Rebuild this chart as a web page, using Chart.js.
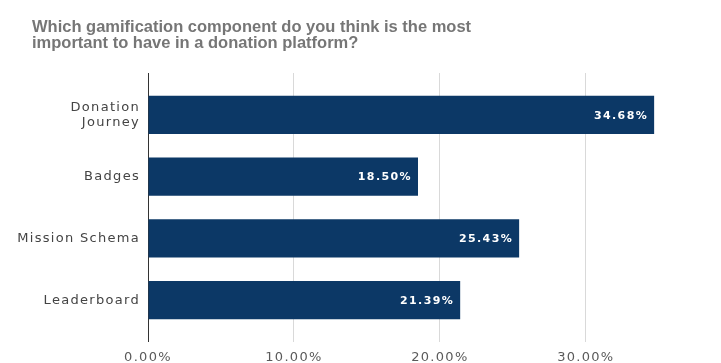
<!DOCTYPE html>
<html>
<head>
<meta charset="utf-8">
<script src="https://cdn.jsdelivr.net/npm/chart.js@4/dist/chart.umd.min.js"></script>
<style>
html,body{margin:0;padding:0;background:#fff;}
#wrap{width:721px;height:363px;position:relative;}
</style>
</head>
<body>
<div id="wrap"><canvas id="c"></canvas></div>
<script>
const titleLines = ['Which gamification component do you think is the most', 'important to have in a donation platform?'];
const categories = [['Donation', 'Journey'], 'Badges', 'Mission Schema', 'Leaderboard'];
const shares = [34.68, 18.50, 25.43, 21.39];
const tickValues = [0, 10, 20, 30];

const SPACING = '1.3px';
const keepTicks = scale => { scale.ticks = scale.ticks.filter(t => tickValues.includes(t.value)); };
const gridColor = ctx => (ctx.tick && ctx.tick.value === 0) ? '#333333' : '#d9d9d9';

const spacingPlugin = {
  id: 'spacing',
  beforeLayout(chart) { chart.ctx.letterSpacing = SPACING; },
  beforeDraw(chart) { chart.ctx.letterSpacing = '0px'; },
  afterDatasetsDraw(chart) {
    const ctx = chart.ctx;
    const meta = chart.getDatasetMeta(0);
    ctx.save();
    ctx.letterSpacing = '1.4px';
    ctx.font = 'bold 11px "DejaVu Sans"';
    ctx.fillStyle = '#ffffff';
    ctx.textAlign = 'right';
    ctx.textBaseline = 'middle';
    meta.data.forEach((bar, i) => {
      ctx.fillText(shares[i].toFixed(2) + '%', bar.x - 6, bar.y + 1);
    });
    ctx.restore();
    ctx.letterSpacing = SPACING;
  }
};

new Chart(document.getElementById('c'), {
  type: 'bar',
  data: {
    labels: categories,
    datasets: [{
      data: shares,
      backgroundColor: '#0c3866',
      borderWidth: 0,
      barPercentage: 0.62,
      categoryPercentage: 1.0
    }]
  },
  plugins: [spacingPlugin],
  options: {
    indexAxis: 'y',
    responsive: true,
    maintainAspectRatio: false,
    animation: false,
    layout: { padding: { left: 32, right: 33, top: 0, bottom: 0 } },
    plugins: {
      legend: { display: false },
      tooltip: { enabled: false },
      title: {
        display: true,
        text: titleLines,
        align: 'start',
        color: '#767676',
        font: { family: '"Liberation Sans", Arial, sans-serif', size: 16.5, weight: 'bold', lineHeight: 1.0 },
        padding: { top: 19, bottom: 21 }
      }
    },
    scales: {
      x: {
        type: 'linear',
        position: 'bottom',
        min: 0,
        max: 37,
        afterBuildTicks: keepTicks,
        afterFit: scale => { scale.height = 32; },
        grid: { color: gridColor, tickLength: 11, drawTicks: true },
        border: { display: false },
        ticks: {
          z: 1,
          padding: 8,
          color: '#5a5a5a',
          font: { family: '"DejaVu Sans"', size: 13, lineHeight: 1.2 },
          callback: v => Number(v).toFixed(2) + '%'
        }
      },
      x2: {
        type: 'linear',
        position: 'top',
        min: 0,
        max: 37,
        afterBuildTicks: keepTicks,
        grid: { color: gridColor, tickLength: 11, drawTicks: true, drawOnChartArea: false },
        border: { display: false },
        ticks: { display: false }
      },
      y: {
        type: 'category',
        afterFit: scale => {
          scale.width = 116;
          scale._computeLabelArea = () => undefined;
        },
        grid: { display: false, drawTicks: false },
        border: { display: false },
        ticks: {
          z: 1,
          padding: 8,
          color: '#444444',
          font: { family: '"DejaVu Sans"', size: 13, lineHeight: 1.12 }
        }
      }
    }
  }
});
</script>
</body>
</html>
